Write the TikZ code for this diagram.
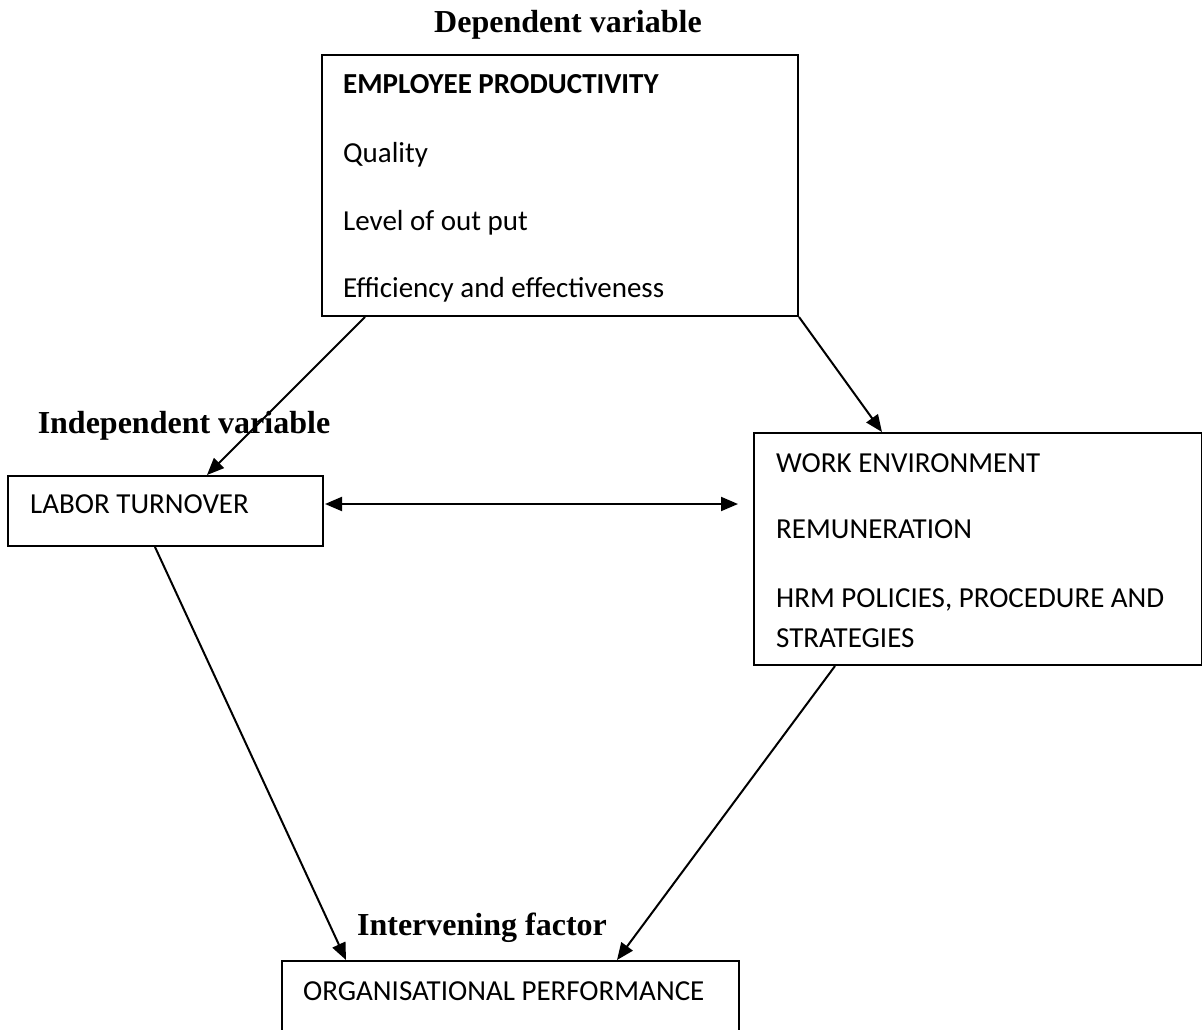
\documentclass[tikz,border=0pt]{standalone}
\usepackage{fontspec}
\setmainfont{Carlito}
\newfontfamily\titlefont{Liberation Serif}
\usetikzlibrary{arrows.meta,calc}
\begin{document}
\begin{tikzpicture}[x=1pt,y=-1pt,
  box/.style={draw,line width=2pt,inner sep=0pt,anchor=north west},
  txt/.style={anchor=base west,inner sep=0pt,font=\fontsize{29}{34}\selectfont},
  ttl/.style={anchor=base,inner sep=0pt,font=\titlefont\bfseries\fontsize{32}{38}\selectfont},
  conn/.style={line width=2pt,-{Triangle[length=17pt,width=14pt]}},
  dconn/.style={line width=2pt,{Triangle[length=17pt,width=14pt]}-{Triangle[length=17pt,width=14pt]}}]
\useasboundingbox (0,0) rectangle (1202,1030);
% boxes
\node[box,minimum width=476pt,minimum height=261pt] (ep) at (321,54) {};
\node[box,minimum width=315pt,minimum height=70pt] (lt) at (7,475) {};
\node[box,minimum width=448pt,minimum height=232pt] (we) at (753,432) {};
\node[box,minimum width=457pt,minimum height=80pt] (op) at (281,960) {};
% titles
\node[ttl] (t1) at (568,33) {Dependent variable};
\node[ttl] (t2) at (184,433) {Independent variable};
\node[ttl] (t3) at (482,935) {Intervening factor};
% texts
\node[txt,font=\bfseries\fontsize{29}{34}\selectfont] (e1) at (343,94) {EMPLOYEE PRODUCTIVITY};
\node[txt] (e2) at (343,162) {Quality};
\node[txt] (e3) at (343,230) {Level of out put};
\node[txt] (e4) at (343,297) {Efficiency and effectiveness};
\node[txt] (l1) at (30,513) {LABOR TURNOVER};
\node[txt] (w1) at (776,472) {WORK ENVIRONMENT};
\node[txt] (w2) at (776,538) {REMUNERATION};
\node[txt] (w3) at (776,607) {HRM POLICIES, PROCEDURE AND};
\node[txt] (w4) at (776,647) {STRATEGIES};
\node[txt] (o1) at (303,1000) {ORGANISATIONAL PERFORMANCE};
% connector endpoints
\coordinate (a1s) at ($(ep.south west)+(44,0)$);
\coordinate (a1e) at ($(lt.north west)+(200,0)$);
\coordinate (a2e) at ($(we.north west)+(129,0)$);
\coordinate (a3s) at ($(lt.north east)+(1,29)$);
\coordinate (a3e) at (738,504);
\coordinate (a4s) at ($(lt.south west)+(148,0)$);
\coordinate (a4e) at ($(op.north west)+(65,0)$);
\coordinate (a5s) at ($(we.south west)+(82,0)$);
\coordinate (a5e) at ($(op.north west)+(336,0)$);
\draw[conn] (a1s) -- (a1e);
\draw[conn] (ep.south east) -- (a2e);
\draw[dconn] (a3s) -- (a3e);
\draw[conn] (a4s) -- (a4e);
\draw[conn] (a5s) -- (a5e);
\end{tikzpicture}
\end{document}
